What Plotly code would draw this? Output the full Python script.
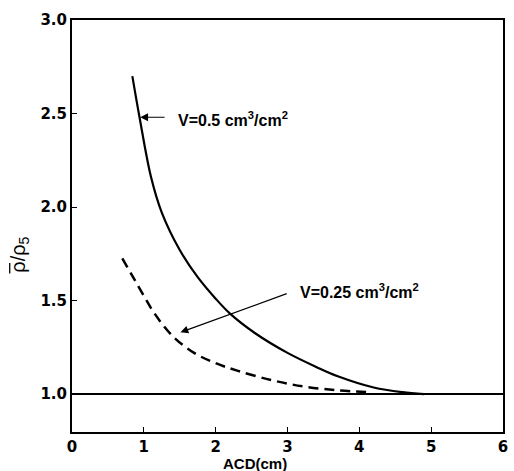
import plotly.graph_objects as go

# Data
solid_x = [0.84, 0.94, 1.10, 1.25, 1.50, 1.75, 2.00, 2.20, 2.55, 3.00, 3.40, 3.70, 4.20, 4.60, 4.90]
solid_y = [2.70, 2.48, 2.16, 1.97, 1.77, 1.625, 1.51, 1.43, 1.325, 1.22, 1.145, 1.095, 1.035, 1.01, 1.00]

dashed_x = [0.70, 0.85, 1.00, 1.15, 1.40, 1.70, 2.00, 2.30, 2.77, 3.23, 3.69, 4.12]
dashed_y = [1.725, 1.625, 1.525, 1.43, 1.31, 1.22, 1.165, 1.125, 1.075, 1.04, 1.02, 1.01]

ref_x = [0, 6]
ref_y = [1.0, 1.0]

x_ticks = [0, 1, 2, 3, 4, 5, 6]
y_ticks = [1.0, 1.5, 2.0, 2.5, 3.0]
y_tick_labels = ["1.0", "1.5", "2.0", "2.5", "3.0"]

label_solid = "V=0.5 cm<sup>3</sup>/cm<sup>2</sup>"
label_dashed = "V=0.25 cm<sup>3</sup>/cm<sup>2</sup>"

fig = go.Figure()
fig.add_trace(go.Scatter(x=ref_x, y=ref_y, mode="lines",
                         line=dict(color="black", width=2), showlegend=False))
fig.add_trace(go.Scatter(x=solid_x, y=solid_y, mode="lines", line_shape="spline",
                         line=dict(color="black", width=2.2), showlegend=False))
fig.add_trace(go.Scatter(x=dashed_x, y=dashed_y, mode="lines", line_shape="spline",
                         line=dict(color="black", width=2.5, dash="10px,6px"), showlegend=False))

font_ann = dict(family="Liberation Sans", size=16, color="black", weight="bold")
font_tick = dict(family="DejaVu Sans", size=15, color="black", weight="bold")

# arrows
fig.add_annotation(x=0.95, y=2.48, ax=1.31, ay=2.48, axref="x", ayref="y",
                   text="", showarrow=True, arrowhead=2, arrowsize=1.3,
                   arrowwidth=1.2, arrowcolor="black")
fig.add_annotation(x=1.51, y=1.33, ax=3.01, ay=1.54, axref="x", ayref="y",
                   text="", showarrow=True, arrowhead=2, arrowsize=1.3,
                   arrowwidth=1.2, arrowcolor="black")
# labels
fig.add_annotation(x=1.45, y=2.47, text=label_solid, showarrow=False,
                   xanchor="left", yanchor="middle", font=font_ann)
fig.add_annotation(x=3.14, y=1.55, text=label_dashed, showarrow=False,
                   xanchor="left", yanchor="middle", font=font_ann)
# axis titles
fig.add_annotation(x=2.55, y=0, xref="x", yref="paper", yshift=-31,
                   text="ACD(cm)", showarrow=False, xanchor="center", yanchor="middle",
                   font=dict(family="Liberation Sans", size=15, color="black", weight="bold"))
fig.add_annotation(x=0, xref="paper", y=1.745, yref="y", xshift=-52,
                   text="ρ/ρ<sub>5</sub>", showarrow=False, textangle=-90,
                   xanchor="center", yanchor="middle",
                   font=dict(family="Liberation Sans", size=20, color="black"))
# overbar on the first rho
fig.add_shape(type="line", xref="x domain", yref="y",
              x0=-0.1445, x1=-0.1445, y0=1.645, y1=1.70,
              line=dict(color="black", width=1.3))

axis_common = dict(showline=True, mirror=True, linecolor="black", linewidth=2,
                   ticks="inside", ticklen=5, tickwidth=1, tickcolor="black",
                   showgrid=False, zeroline=False, tickfont=font_tick)

fig.update_xaxes(range=[0, 6], tickvals=x_ticks, **axis_common)
fig.update_yaxes(range=[0.797, 3.0], tickvals=y_ticks, ticktext=y_tick_labels, **axis_common)

fig.update_layout(width=514, height=471, margin=dict(l=72, r=6, t=20, b=39),
                  plot_bgcolor="white", paper_bgcolor="white")

fig.write_html("out.html", config={"displayModeBar": False},
               post_script="document.body.style.margin='0';document.body.style.overflow='hidden';")
